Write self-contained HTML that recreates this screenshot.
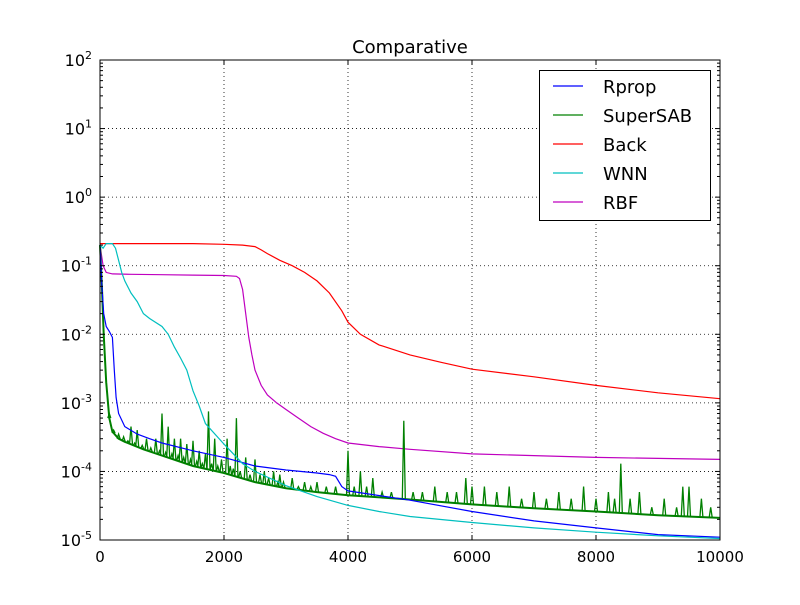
<!DOCTYPE html>
<html><head><meta charset="utf-8"><style>
body{margin:0;background:#fff;width:800px;height:600px;overflow:hidden}
svg text{font-family:"DejaVu Sans","Liberation Sans",sans-serif}
</style></head><body>
<svg id="chart" width="800" height="600" xmlns="http://www.w3.org/2000/svg">
<rect x="0" y="0" width="800" height="600" fill="#fff"/>
</svg>
<script>
const xTicks=[0,2000,4000,6000,8000,10000];
const yExps=[-5,-4,-3,-2,-1,0,1,2];
const rpropX=[0,30,60,100,150,200,230,260,300,400,600,800,1000,1500,2000,2500,3000,3500,3700,3800,3900,4000,5000,6000,7000,8000,9000,10000];
const rpropY=[0.2,0.05,0.02,0.013,0.011,0.009,0.003,0.0012,0.0007,0.00045,0.00035,0.0003,0.00026,0.0002,0.00016,0.00012,0.000105,0.000095,0.00009,0.000085,0.00006,0.000052,0.000038,0.000026,0.000019,0.000015,0.000012,0.000011];
const sabX=[0,30,60,100,150,200,300,400,700,1000,1500,2000,2500,3000,3500,4000,5000,6000,7000,8000,9000,10000];
const sabY=[0.2,0.05,0.01,0.002,0.0006,0.00038,0.0003,0.00027,0.00021,0.00017,0.00012,0.000095,0.00007,0.000057,0.00005,0.000045,0.000039,0.000033,0.000029,0.000026,0.000023,0.000021];
const spikeX=[150,220,300,380,450,500,560,600,680,750,820,900,960,1000,1060,1100,1160,1200,1260,1300,1350,1400,1460,1500,1560,1600,1650,1700,1750,1800,1850,1900,1960,2050,2100,2150,2200,2260,2350,2420,2500,2580,2650,2720,2800,2870,2900,2960,3100,3200,3300,3400,3500,3650,3800,4000,4100,4200,4300,4400,4550,4700,4900,5050,5200,5400,5600,5750,5900,6000,6200,6400,6600,6800,7000,7200,7400,7600,7800,8000,8200,8300,8400,8550,8700,8900,9100,9300,9400,9500,9700,9850];
const spikeY=[0.0007,0.0004,0.00035,0.00032,0.00028,0.00045,0.00026,0.0004,0.00024,0.0003,0.00022,0.0003,0.0002,0.0007,0.00019,0.00045,0.00018,0.0003,0.00017,0.0003,0.00016,0.00025,0.00015,0.00028,0.00014,0.0002,0.00013,0.00018,0.00075,0.00013,0.0003,0.00012,0.00015,0.0003,0.00012,0.00011,0.0006,0.0001,0.00016,0.00009,0.00015,0.00009,0.0001,0.00008,0.0001,0.00007,0.00009,0.00007,0.00008,0.00006,0.00007,0.00006,0.00007,0.00006,0.00006,0.0002,0.00006,0.0001,0.00006,0.00008,0.00005,0.00005,0.00055,0.00005,0.00005,0.00006,0.00005,0.00005,0.00008,0.00006,0.00006,0.00005,0.00006,0.00004,0.00005,0.00004,0.00005,0.00004,0.00006,0.00004,0.00005,0.00004,0.00013,0.00004,0.00005,0.00003,0.00004,0.00003,0.00006,0.00006,0.00004,0.00003];
const backX=[0,500,1000,1500,2000,2300,2500,2600,2700,2900,3100,3300,3500,3700,3900,4000,4200,4500,5000,5500,6000,7000,8000,9000,10000];
const backY=[0.21,0.21,0.21,0.21,0.205,0.2,0.19,0.17,0.15,0.12,0.1,0.08,0.06,0.04,0.022,0.015,0.01,0.007,0.005,0.0039,0.0031,0.0024,0.0018,0.0014,0.00115];
const wnnX=[0,50,100,200,250,300,350,400,500,600,700,800,1000,1100,1200,1300,1400,1500,1600,1700,2000,2300,2500,3000,3500,4000,4500,5000,6000,7000,8000,9000,10000];
const wnnY=[0.2,0.18,0.21,0.21,0.18,0.12,0.08,0.06,0.04,0.03,0.02,0.017,0.013,0.01,0.0065,0.0045,0.003,0.0015,0.0009,0.0005,0.00025,0.00013,0.0001,0.000062,0.000043,0.000032,0.000026,0.000022,0.000018,0.000015,0.000013,0.0000115,0.0000105];
const rbfX=[0,50,100,200,500,1000,1500,2000,2200,2250,2300,2350,2400,2450,2500,2600,2700,2850,3000,3200,3400,3600,3800,4000,4500,5000,6000,7000,8000,9000,10000];
const rbfY=[0.2,0.1,0.08,0.076,0.075,0.074,0.073,0.072,0.07,0.065,0.045,0.02,0.009,0.005,0.003,0.0018,0.0013,0.001,0.0008,0.0006,0.00045,0.00036,0.0003,0.00026,0.00023,0.00021,0.00018,0.00017,0.00016,0.000155,0.00015];

const L=100,R=720,T=60,B=540;
const xs=v=>L+(v/10000)*(R-L);
const ys=v=>B-(Math.log10(v)+5)*(B-T)/7;
const svg=document.getElementById('chart');
const NS='http://www.w3.org/2000/svg';
function mk(tag,attrs,parent){const e=document.createElementNS(NS,tag);for(const k in attrs)e.setAttribute(k,attrs[k]);(parent||svg).appendChild(e);return e;}

xTicks.forEach(t=>{if(t>0&&t<10000){const g=mk('line',{x1:xs(t),x2:xs(t),y1:T,y2:B,stroke:'#000','stroke-width':0.8,'stroke-dasharray':'1,3'});

}});
yExps.forEach(e=>{if(e>-5&&e<2){const g=mk('line',{x1:L,x2:R,y1:ys(Math.pow(10,e)),y2:ys(Math.pow(10,e)),stroke:'#000','stroke-width':0.8,'stroke-dasharray':'1,3'});

}});

function line(xa,ya,color,name,w){
  const d=xa.map((x,i)=>(i?'L':'M')+xs(x).toFixed(1)+','+ys(ya[i]).toFixed(1)).join('');
  const p=mk('path',{d:d,fill:'none',stroke:color,'stroke-width':w||1.2});
  
  
}
function interpLog(xa,ya,x){for(let i=1;i<xa.length;i++){if(x<=xa[i]){const f=(x-xa[i-1])/(xa[i]-xa[i-1]);return Math.pow(10,Math.log10(ya[i-1])+f*(Math.log10(ya[i])-Math.log10(ya[i-1])));}}return ya[ya.length-1];}

line(backX,backY,'#ff0000','back-line');
line(rbfX,rbfY,'#bf00bf','rbf-line');
line(sabX,sabY,'#008000','supersab-line',2);
spikeX.forEach((x,i)=>{const base=interpLog(sabX,sabY,x);
  const s=mk('path',{d:`M${(xs(x)-1.5).toFixed(1)},${ys(base).toFixed(1)}L${xs(x).toFixed(1)},${ys(spikeY[i]).toFixed(1)}L${(xs(x)+1.5).toFixed(1)},${ys(base).toFixed(1)}`,fill:'none',stroke:'#008000','stroke-width':1.3});
  
  });
line(rpropX,rpropY,'#0000ff','rprop-line');
line(wnnX,wnnY,'#00bfbf','wnn-line');

const fr=mk('rect',{x:L,y:T,width:R-L,height:B-T,fill:'none',stroke:'#000','stroke-width':1});



xTicks.forEach(t=>{const x=xs(t);
  mk('line',{x1:x,x2:x,y1:B,y2:B-5,stroke:'#000'});mk('line',{x1:x,x2:x,y1:T,y2:T+5,stroke:'#000'});
  const tx=mk('text',{x:x,y:B+22,'text-anchor':'middle','font-size':15});tx.textContent=t;
  
  });
yExps.forEach(e=>{const y=ys(Math.pow(10,e));
  mk('line',{x1:L,x2:L+5,y1:y,y2:y,stroke:'#000'});mk('line',{x1:R,x2:R-5,y1:y,y2:y,stroke:'#000'});
  if(e<2){for(let m=2;m<10;m++){const yy=ys(m*Math.pow(10,e));mk('line',{x1:L,x2:L+3,y1:yy,y2:yy,stroke:'#000'});mk('line',{x1:R,x2:R-3,y1:yy,y2:yy,stroke:'#000'});}}
  const tx=mk('text',{x:L-8,y:y+6,'text-anchor':'end','font-size':16});
  tx.innerHTML='10<tspan dy="-7" font-size="11">'+e+'</tspan>';
  
  });

const title=mk('text',{x:410,y:53,'text-anchor':'middle','font-size':18});title.textContent='Comparative';



const lg=mk('g',{});


mk('rect',{x:539.5,y:70.5,width:171,height:150,fill:'#fff',stroke:'#000'},lg);
const names=['Rprop','SuperSAB','Back','WNN','RBF'];
const cols=['#0000ff','#008000','#ff0000','#00bfbf','#bf00bf'];
names.forEach((n,i)=>{const y=86+i*29;
  const en=mk('g',{},lg);
  
  
  mk('line',{x1:553,x2:583,y1:y,y2:y,stroke:cols[i],'stroke-width':1.2},en);
  const t=mk('text',{x:603,y:y+7,'font-size':18},en);t.textContent=n;});
</script>
</body></html>
